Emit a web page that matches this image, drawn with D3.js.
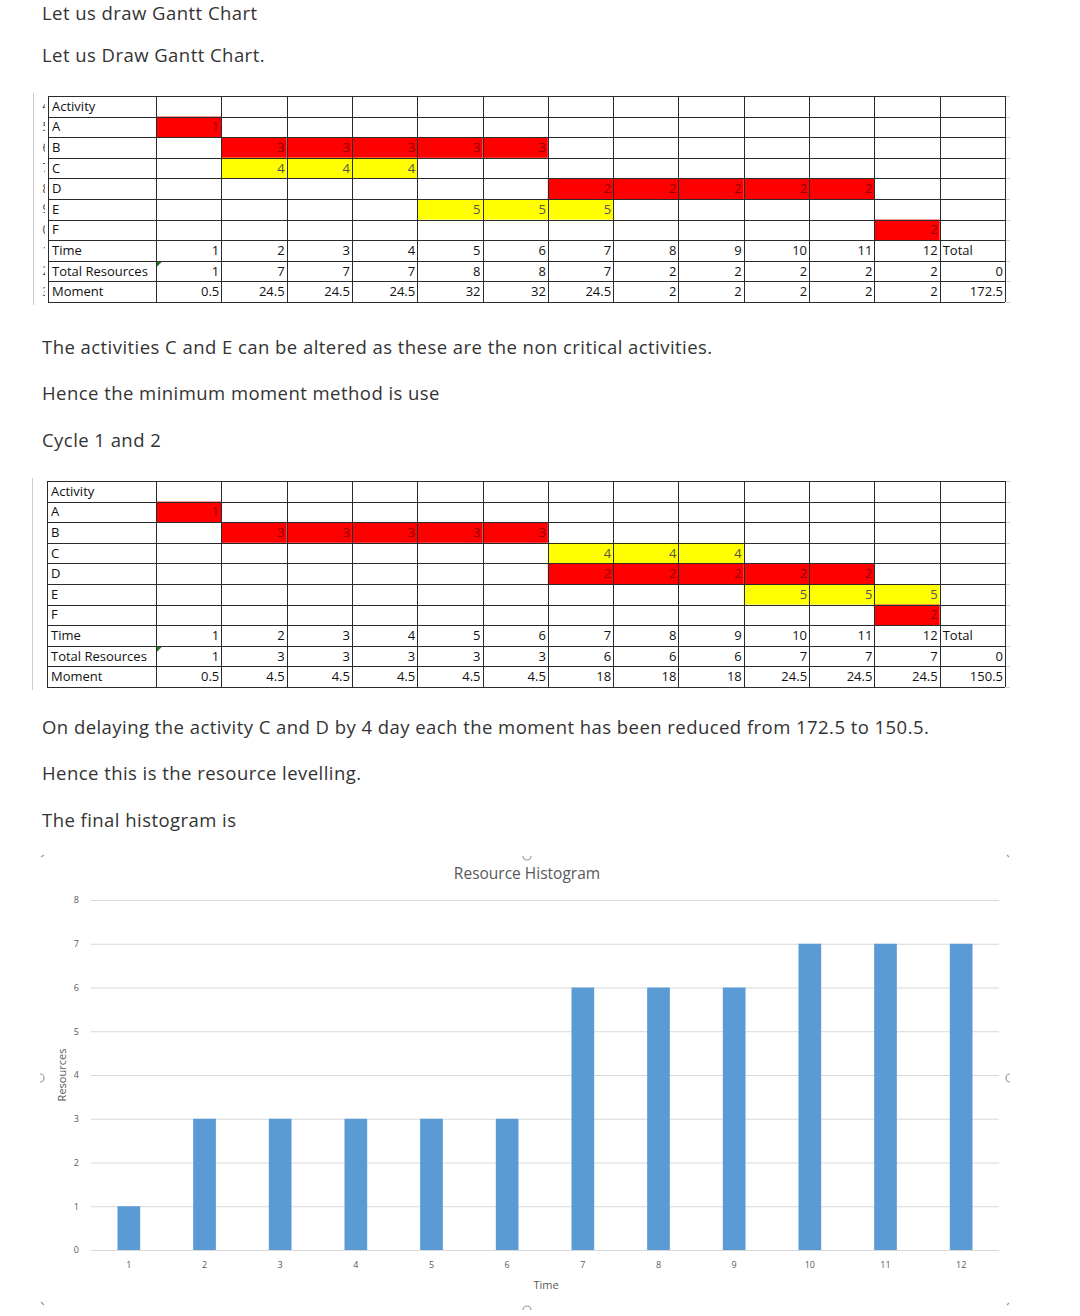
<!DOCTYPE html>
<html>
<head>
<meta charset="utf-8">
<script src="https://cdn.jsdelivr.net/npm/d3@7"></script>
<style>
  body { margin: 0; background: #fff; }
  svg { display: block; }
</style>
</head>
<body>
<svg id="page" width="1080" height="1316"></svg>
<script>
// ---- data ----
const rowLabels = ['Activity', 'A', 'B', 'C', 'D', 'E', 'F', 'Time', 'Total Resources', 'Moment'];
const timeSlots = [1, 2, 3, 4, 5, 6, 7, 8, 9, 10, 11, 12];

// activity: start day, duration, resources per day, critical?
const plan1 = [
  { id: 'A', start: 1, dur: 1, res: 1, critical: true },
  { id: 'B', start: 2, dur: 5, res: 3, critical: true },
  { id: 'C', start: 2, dur: 3, res: 4, critical: false },
  { id: 'D', start: 7, dur: 5, res: 2, critical: true },
  { id: 'E', start: 5, dur: 3, res: 5, critical: false },
  { id: 'F', start: 12, dur: 1, res: 2, critical: true },
];
const totals1 = [1, 7, 7, 7, 8, 8, 7, 2, 2, 2, 2, 2];
const moments1 = [0.5, 24.5, 24.5, 24.5, 32, 32, 24.5, 2, 2, 2, 2, 2];
const totalRes1 = 0;
const totalMoment1 = 172.5;

const plan2 = [
  { id: 'A', start: 1, dur: 1, res: 1, critical: true },
  { id: 'B', start: 2, dur: 5, res: 3, critical: true },
  { id: 'C', start: 7, dur: 3, res: 4, critical: false },
  { id: 'D', start: 7, dur: 5, res: 2, critical: true },
  { id: 'E', start: 10, dur: 3, res: 5, critical: false },
  { id: 'F', start: 12, dur: 1, res: 2, critical: true },
];
const totals2 = [1, 3, 3, 3, 3, 3, 6, 6, 6, 7, 7, 7];
const moments2 = [0.5, 4.5, 4.5, 4.5, 4.5, 4.5, 18, 18, 18, 24.5, 24.5, 24.5];
const totalRes2 = 0;
const totalMoment2 = 150.5;

const histTime = [1, 2, 3, 4, 5, 6, 7, 8, 9, 10, 11, 12];
const histResources = [1, 3, 3, 3, 3, 3, 6, 6, 6, 7, 7, 7];

const paragraphs = [
  { text: 'Let us draw Gantt Chart', y: 20 },
  { text: 'Let us Draw Gantt Chart.', y: 62 },
  { text: 'The activities C and E can be altered as these are the non critical activities.', y: 354 },
  { text: 'Hence the minimum moment method is use', y: 400 },
  { text: 'Cycle 1 and 2', y: 447 },
  { text: 'On delaying the activity C and D by 4 day each the moment has been reduced from 172.5 to 150.5.', y: 734 },
  { text: 'Hence this is the resource levelling.', y: 780 },
  { text: 'The final histogram is', y: 827 },
];

const svg = d3.select('#page');

// ---- body text ----
svg.append('g')
  .selectAll('text')
  .data(paragraphs)
  .join('text')
  .attr('x', 42)
  .attr('y', d => d.y)
  .attr('font-family', '"Open Sans", sans-serif')
  .attr('font-size', 18.5)
  .attr('letter-spacing', 0.45)
  .attr('fill', '#333')
  .text(d => d.text);

// ---- spreadsheet tables ----
const drawTable = (top, labelLeft, plan, totals, moments, totalRes, totalMoment, sideDigits) => {
  const g = svg.append('g');
  const colKeys = [...timeSlots, 'Total'];
  const x = d3.scaleBand().domain(colKeys).range([156, 1005]);
  const y = d3.scaleBand().domain(rowLabels).range([top, top + 206]);
  const font = '"Open Sans", sans-serif';
  const fs = 13;

  // clipped row numbers at far left
  const clipId = 'clip' + top;
  svg.append('clipPath').attr('id', clipId)
    .append('rect').attr('x', 30).attr('y', top - 5).attr('width', labelLeft - 33).attr('height', 220);
  g.append('g').attr('clip-path', `url(#${clipId})`)
    .selectAll('text')
    .data(rowLabels.map((r, i) => ({ r, n: sideDigits[i] })))
    .join('text')
    .attr('x', labelLeft - 2)
    .attr('y', d => y(d.r) + y.bandwidth() / 2 + 4)
    .attr('text-anchor', 'middle')
    .attr('font-family', font)
    .attr('font-size', 12)
    .attr('fill', '#444')
    .text(d => d.n);

  // coloured activity cells
  const cells = [];
  plan.forEach(a => {
    for (let t = a.start; t < a.start + a.dur; t++) {
      cells.push({ row: a.id, col: t, value: a.res, critical: a.critical });
    }
  });
  g.append('g')
    .selectAll('rect')
    .data(cells)
    .join('rect')
    .attr('x', d => x(d.col))
    .attr('y', d => y(d.row))
    .attr('width', x.bandwidth())
    .attr('height', y.bandwidth())
    .attr('fill', d => d.critical ? '#ff0000' : '#ffff00');

  // grid
  const grid = g.append('g').attr('stroke', '#2a2a2a').attr('stroke-width', 1).attr('shape-rendering', 'crispEdges');
  const rowEdges = rowLabels.map(r => y(r)).concat([y.range()[1]]);
  const colEdges = [labelLeft].concat(colKeys.map(c => x(c))).concat([x.range()[1]]);
  grid.selectAll('.h')
    .data(rowEdges)
    .join('line')
    .attr('x1', labelLeft).attr('x2', 1005)
    .attr('y1', d => Math.round(d) + 0.5).attr('y2', d => Math.round(d) + 0.5);
  grid.selectAll('.v')
    .data(colEdges)
    .join('line')
    .attr('y1', rowEdges[0]).attr('y2', rowEdges[rowEdges.length - 1])
    .attr('x1', d => Math.round(d) + 0.5).attr('x2', d => Math.round(d) + 0.5);
  // faint continuation of the sheet
  g.append('g').attr('stroke', '#ccc')
    .selectAll('line')
    .data(rowEdges)
    .join('line')
    .attr('x1', 1006).attr('x2', 1010)
    .attr('y1', d => Math.round(d) + 0.5).attr('y2', d => Math.round(d) + 0.5);
  g.append('line').attr('stroke', '#ccc')
    .attr('x1', labelLeft - 14.5).attr('x2', labelLeft - 14.5)
    .attr('y1', rowEdges[0] - 3).attr('y2', rowEdges[rowEdges.length - 1] + 3);

  // row labels
  g.append('g')
    .selectAll('text')
    .data(rowLabels)
    .join('text')
    .attr('x', labelLeft + 4)
    .attr('y', d => y(d) + y.bandwidth() / 2 + 4.5)
    .attr('font-family', font)
    .attr('font-size', fs)
    .attr('fill', '#111')
    .text(d => d);

  // values inside activity cells
  g.append('g')
    .selectAll('text')
    .data(cells)
    .join('text')
    .attr('x', d => x(d.col) + x.bandwidth() - 2)
    .attr('y', d => y(d.row) + y.bandwidth() / 2 + 4.5)
    .attr('text-anchor', 'end')
    .attr('font-family', font)
    .attr('font-size', fs)
    .attr('fill', d => d.critical ? '#8a0000' : '#555')
    .text(d => d.value);

  // numeric rows
  const numRows = [
    { row: 'Time', vals: timeSlots },
    { row: 'Total Resources', vals: totals.concat([totalRes]) },
    { row: 'Moment', vals: moments.concat([totalMoment]) },
  ];
  numRows.forEach(nr => {
    g.append('g')
      .selectAll('text')
      .data(nr.vals.map((v, i) => ({ v, c: colKeys[i] })))
      .join('text')
      .attr('x', d => x(d.c) + x.bandwidth() - 2)
      .attr('y', y(nr.row) + y.bandwidth() / 2 + 4.5)
      .attr('text-anchor', 'end')
      .attr('font-family', font)
      .attr('font-size', fs)
      .attr('fill', '#111')
      .text(d => d.v);
  });
  g.append('text')
    .attr('x', x('Total') + 3)
    .attr('y', y('Time') + y.bandwidth() / 2 + 4.5)
    .attr('font-family', font)
    .attr('font-size', fs)
    .attr('fill', '#111')
    .text('Total');

  // green error marker
  g.append('path')
    .attr('d', `M${x(1) + 1},${y('Total Resources') + 1}h5l-5,5z`)
    .attr('fill', '#1f7a1f');
};

drawTable(96, 48, plan1, totals1, moments1, totalRes1, totalMoment1, ['4', '5', '6', '7', '8', '9', '0', '1', '2', '3']);
drawTable(481, 47, plan2, totals2, moments2, totalRes2, totalMoment2, ['', '', '', '', '', '', '', '', '', '']);

// ---- histogram ----
const margin = { top: 900, right: 81, bottom: 66, left: 91 };
const W = 1080, H = 1316;
const x = d3.scaleBand()
  .domain(histTime)
  .range([margin.left, W - margin.right])
  .paddingInner(0.7)
  .paddingOuter(0.35);
const y = d3.scaleLinear()
  .domain([0, 8])
  .range([H - margin.bottom, margin.top]);

const chart = svg.append('g').attr('font-family', '"Open Sans", sans-serif');

chart.append('g')
  .attr('transform', `translate(${margin.left},0)`)
  .call(d3.axisLeft(y).ticks(8).tickSize(-(W - margin.left - margin.right)).tickPadding(12))
  .call(g => g.select('.domain').remove())
  .call(g => g.selectAll('.tick line').attr('stroke', '#d9d9d9'))
  .call(g => g.selectAll('.tick text').attr('fill', '#595959').attr('font-size', 9).attr('font-family', '"Open Sans", sans-serif'));

chart.append('g')
  .selectAll('rect')
  .data(histResources.map((v, i) => ({ t: histTime[i], v })))
  .join('rect')
  .attr('x', d => x(d.t))
  .attr('y', d => y(d.v))
  .attr('width', x.bandwidth())
  .attr('height', d => y(0) - y(d.v))
  .attr('fill', '#5b9bd5');

chart.append('g')
  .attr('transform', `translate(0,${H - margin.bottom})`)
  .call(d3.axisBottom(x).tickSize(0).tickPadding(12))
  .call(g => g.select('.domain').remove())
  .call(g => g.selectAll('.tick text').attr('fill', '#595959').attr('font-size', 9).attr('font-family', '"Open Sans", sans-serif'));

chart.append('text')
  .attr('x', 527)
  .attr('y', 879)
  .attr('text-anchor', 'middle')
  .attr('font-size', 15.5)
  .attr('fill', '#595959')
  .text('Resource Histogram');

chart.append('text')
  .attr('x', 546)
  .attr('y', 1289)
  .attr('text-anchor', 'middle')
  .attr('font-size', 11)
  .attr('fill', '#595959')
  .text('Time');

chart.append('text')
  .attr('transform', 'translate(66,1075) rotate(-90)')
  .attr('text-anchor', 'middle')
  .attr('font-size', 11)
  .attr('fill', '#595959')
  .text('Resources');

// chart selection handles (cropped)
const handles = chart.append('g').attr('fill', 'none').attr('stroke', '#999').attr('stroke-width', 1.2);
handles.append('path').attr('d', 'M41,857 l3,-2');
handles.append('path').attr('d', 'M1007,855 l2,2');
handles.append('path').attr('d', 'M41,1302 l3,3');
handles.append('path').attr('d', 'M1007,1305 l2,-2');
handles.append('path').attr('d', 'M40,1074 a4,4 0 0 1 0,8');
handles.append('path').attr('d', 'M1010,1074 a4,4 0 0 0 0,8');
handles.append('path').attr('d', 'M523,856 a4,4 0 0 0 8,0');
handles.append('path').attr('d', 'M523,1310 a4,4 0 0 1 8,0');
</script>
</body>
</html>
